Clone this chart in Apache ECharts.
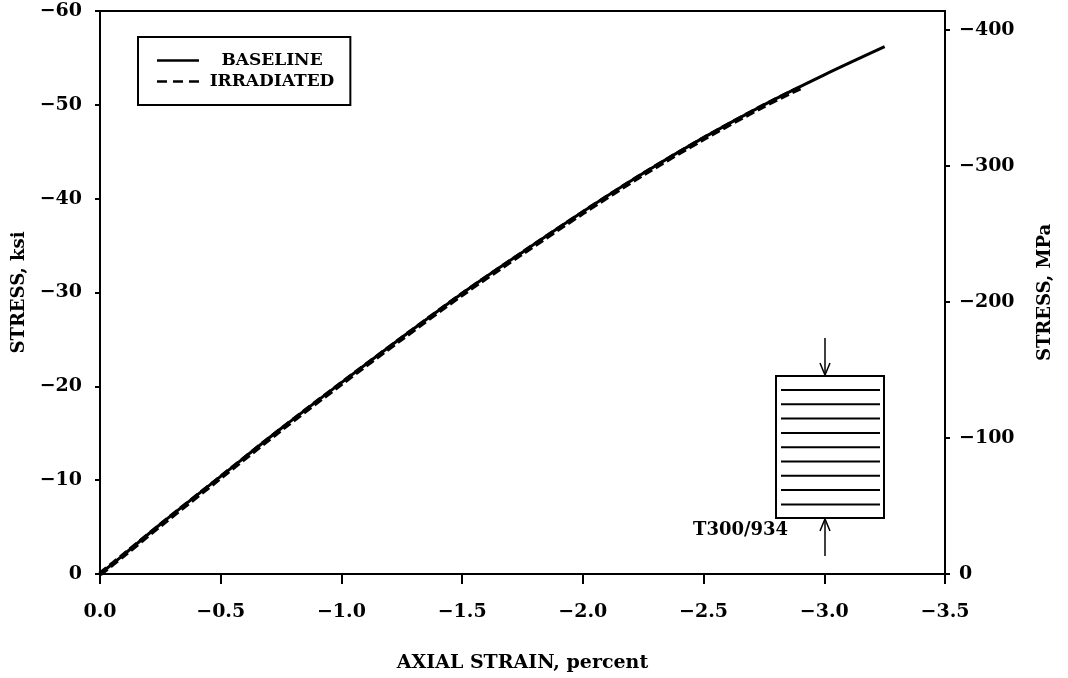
<!DOCTYPE html>
<html>
<head>
<meta charset="utf-8">
<script src="https://cdn.jsdelivr.net/npm/echarts@6/dist/echarts.min.js"></script>
<style>
html,body{margin:0;padding:0;background:#fff;}
#chart{width:1068px;height:678px;}
</style>
</head>
<body>
<div id="chart"></div>
<script>
// ---- data ----
const baselineStrain = [0, -0.1, -0.25, -0.5, -0.75, -1.0, -1.25, -1.5, -1.75, -2.0, -2.25, -2.5, -2.75, -3.0, -3.25];
const baselineStress = [0, -2.1, -5.3, -10.4, -15.5, -20.4, -25.2, -29.9, -34.3, -38.6, -42.7, -46.5, -50.0, -53.2, -56.2];
const irradStrain = [0, -0.1, -0.25, -0.5, -0.75, -1.0, -1.25, -1.5, -1.75, -2.0, -2.25, -2.5, -2.75, -2.9];
const irradStress = [0, -2.05, -5.2, -10.3, -15.4, -20.3, -25.1, -29.8, -34.2, -38.5, -42.6, -46.4, -49.9, -51.8];
const mpaTicks = [0, -100, -200, -300, -400];
const seriesNames = ['BASELINE', 'IRRADIATED'];
const KSI_TO_MPA = 6.894757;

const zip = (a, b) => a.map((v, i) => [v, b[i]]);
const minus = s => s.replace('-', '\u2212');
const FONT = '"DejaVu Serif", serif';

const chart = echarts.init(document.getElementById('chart'));
const axisLineStyle = {color: '#000', width: 2};

const specimenLines = [];
for (let i = 0; i < 9; i++) {
  specimenLines.push({type: 'line', shape: {x1: 781, y1: 390 + i * 14.3, x2: 880, y2: 390 + i * 14.3},
    style: {stroke: '#000', lineWidth: 2}});
}

chart.setOption({
  backgroundColor: '#fff',
  animation: false,
  grid: {left: 100, right: 123, top: 11, bottom: 103, show: true, borderColor: '#000', borderWidth: 2},
  legend: {
    left: 138, top: 37, orient: 'vertical',
    data: [
      {name: seriesNames[0], icon: 'path://M0,0H42V2.5H0Z'},
      {name: seriesNames[1], icon: 'path://M0,0H10V2.5H0Z M16,0H26V2.5H16Z M32,0H42V2.5H32Z'}
    ],
    borderColor: '#000', borderWidth: 2, borderRadius: 0,
    padding: [15, 16, 15, 19], itemGap: 4,
    itemWidth: 42, itemHeight: 3,
    itemStyle: {color: '#000'},
    formatter: n => '{a|' + n + '}',
    textStyle: {
      rich: {a: {width: 136, height: 20, align: 'center', fontFamily: FONT, fontWeight: 'bold', fontSize: 17, color: '#000'}}
    }
  },
  xAxis: {
    type: 'value', min: -3.5, max: 0, interval: 0.5, inverse: true,
    name: 'AXIAL STRAIN, percent', nameLocation: 'middle', nameGap: 80,
    nameTextStyle: {fontFamily: FONT, fontWeight: 'bold', fontSize: 19, color: '#000'},
    axisLine: {lineStyle: axisLineStyle},
    axisTick: {length: 10, lineStyle: {color: '#000', width: 2}},
    axisLabel: {margin: 29, fontFamily: FONT, fontWeight: 'bold', fontSize: 19, color: '#000',
      formatter: v => v === 0 ? '0.0' : minus(v.toFixed(1))},
    splitLine: {show: false}
  },
  yAxis: [{
    type: 'value', min: -60, max: 0, interval: 10, inverse: true, position: 'left',
    name: 'STRESS, ksi', nameLocation: 'middle', nameGap: 60, nameRotate: 90,
    nameTextStyle: {fontFamily: FONT, fontWeight: 'bold', fontSize: 18, color: '#000'},
    axisLine: {show: true, lineStyle: axisLineStyle},
    axisTick: {length: 5, lineStyle: {color: '#000', width: 2}},
    axisLabel: {margin: 18, fontFamily: FONT, fontWeight: 'bold', fontSize: 19, color: '#000',
      formatter: v => minus(String(v))},
    splitLine: {show: false}
  }, {
    type: 'value', min: -60 * KSI_TO_MPA, max: 0, inverse: true, position: 'right',
    name: 'STRESS, MPa', nameLocation: 'middle', nameGap: 91, nameRotate: 90,
    nameTextStyle: {fontFamily: FONT, fontWeight: 'bold', fontSize: 18, color: '#000'},
    axisLine: {show: true, lineStyle: axisLineStyle},
    axisTick: {length: 5, customValues: mpaTicks, lineStyle: {color: '#000', width: 2}},
    axisLabel: {margin: 14, customValues: mpaTicks, fontFamily: FONT, fontWeight: 'bold', fontSize: 19, color: '#000',
      formatter: v => minus(String(Math.round(v)))},
    splitLine: {show: false}
  }],
  series: [{
    name: seriesNames[0], type: 'line', showSymbol: false, symbol: 'none',
    data: zip(baselineStrain, baselineStress), smooth: 0.3,
    lineStyle: {color: '#000', width: 3}, itemStyle: {color: '#000'}
  }, {
    name: seriesNames[1], type: 'line', showSymbol: false, symbol: 'none',
    data: zip(irradStrain, irradStress), smooth: 0.3,
    lineStyle: {color: '#000', width: 5, type: [9, 4]}, itemStyle: {color: '#000'}
  }],
  graphic: [
    {type: 'rect', shape: {x: 776, y: 376, width: 108, height: 142}, style: {fill: '#fff', stroke: '#000', lineWidth: 2}},
    ...specimenLines,
    {type: 'line', shape: {x1: 825, y1: 338, x2: 825, y2: 374}, style: {stroke: '#000', lineWidth: 1.5}},
    {type: 'polyline', shape: {points: [[820, 363], [825, 375], [830, 363]]}, style: {stroke: '#000', lineWidth: 1.5, fill: null}},
    {type: 'line', shape: {x1: 825, y1: 520, x2: 825, y2: 556}, style: {stroke: '#000', lineWidth: 1.5}},
    {type: 'polyline', shape: {points: [[820, 531], [825, 519], [830, 531]]}, style: {stroke: '#000', lineWidth: 1.5, fill: null}},
    {type: 'text', left: 693, top: 521, style: {text: 'T300/934', fontFamily: FONT, fontWeight: 'bold', fontSize: 18, fill: '#000'}}
  ]
});
</script>
</body>
</html>
